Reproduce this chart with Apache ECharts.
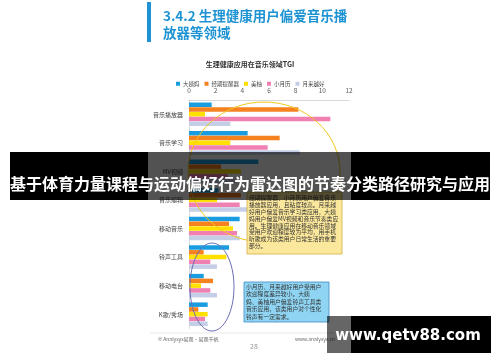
<!DOCTYPE html>
<html><head><meta charset="utf-8">
<script src="https://cdn.jsdelivr.net/npm/echarts@6/dist/echarts.min.js"></script>
<style>html,body{margin:0;padding:0;background:#fff;}#c{width:500px;height:362px;}</style>
</head><body><div id="c"></div>
<script>
const categories = ['音乐播放器','音乐学习','MV视频','音乐编辑','移动音乐','铃声工具','移动电台','K歌/秀场'];
const seriesNames = ['大姨妈','经期提醒器','美柚','小月历','月来越好'];
const dayima   = [1.7, 4.4, 5.2, 2.2, 3.8, 3.0, 1.1, 1.4];
const jingqi   = [8.2, 6.8, 2.4, 3.9, 3.0, 1.1, 1.8, 0.7];
const meiyou   = [1.2, 3.1, 3.9, 2.1, 3.3, 2.8, 0.9, 1.4];
const xiaoyueli= [10.6, 5.9, 2.9, 3.8, 3.6, 1.6, 1.6, 1.2];
const yuelai   = [3.1, 8.3, 3.5, 4.5, 3.8, 2.1, 2.1, 1.4];
const xTicks = [0, 2, 4, 6, 8, 10, 12];
const colors = ['#1a9de0','#f5811f','#ffe000','#f07fb2','#c4cee6'];
const values = [dayima, jingqi, meiyou, xiaoyueli, yuelai];

const CJK = '"Noto Sans CJK SC", sans-serif';
const chart = echarts.init(document.getElementById('c'), null, {renderer:'canvas'});

const noteYellow = '经期提醒器、小月历用户偏爱音乐\n播放器应用，且粘度较高。月来越\n好用户偏爱音乐学习类应用，大姨\n妈用户偏爱MV视频和音乐节奏类应\n用。生理健康应用在移动音乐领域\n受用户欢迎程度较为平均，用手机\n听歌成为该类用户日常生活的重要\n部分。';
const noteBlue = '小月历、月来越好用户受用户\n欢迎程度差异较小。大姨\n妈、美柚用户偏爱铃声工具类\n音乐应用，该类用户对个性化\n铃声有一定需求。';

chart.setOption({
  animation: false,
  backgroundColor: '#fff',
  textStyle: {fontFamily: CJK},
  title: {
    text: '生理健康应用在音乐领域TGI', left: 'center', top: 56,
    textStyle: {fontSize: 7, fontWeight: 'bold', color: '#333', fontFamily: CJK}
  },
  legend: {
    data: seriesNames, left: 171, top: 76, icon: 'rect', itemWidth: 4, itemHeight: 4, itemGap: 5,
    textStyle: {fontSize: 5.5, color: '#444', padding: [0,0,0,-2], fontFamily: CJK}
  },
  grid: {left: 189, right: 151, top: 100, bottom: 33.5},
  xAxis: {
    type: 'value', position: 'top', min: 0, max: 12, interval: 2,
    axisLine: {show: true, lineStyle: {color: '#d9d9d9', width: 1}},
    axisTick: {show: false}, splitLine: {show: false},
    axisLabel: {fontSize: 6.5, color: '#595959', margin: 6, formatter: v => xTicks.includes(v) ? String(v) : ''}
  },
  yAxis: {
    type: 'category', data: categories, inverse: true,
    axisLine: {show: true, lineStyle: {color: '#d9d9d9'}},
    axisTick: {show: false},
    axisLabel: {fontSize: 6, color: '#404040', margin: 6, fontFamily: CJK}
  },
  series: seriesNames.map((n, i) => ({
    name: n, type: 'bar', data: values[i], barWidth: 4.5, barGap: '6%',
    itemStyle: {color: colors[i]}
  })),
  graphic: [
    {type:'rect', z:100, shape:{x:147, y:2, width:4, height:40}, style:{fill:'#1d93d3'}},
    {type:'text', z:100, x:163, y:16, style:{text:'3.4.2 生理健康用户偏爱音乐播', fill:'#1d93d3', font:'bold 13.5px '+CJK, textVerticalAlign:'middle'}},
    {type:'text', z:100, x:163, y:33, style:{text:'放器等领域', fill:'#1d93d3', font:'bold 13.5px '+CJK, textVerticalAlign:'middle'}},
    {type:'ellipse', z:100, shape:{cx:264, cy:172, rx:76, ry:70}, style:{fill:null, stroke:'#f2c81e', lineWidth:1}},
    {type:'ellipse', z:100, shape:{cx:212, cy:287, rx:22, ry:44}, style:{fill:null, stroke:'#6a6db3', lineWidth:1}},
    {type:'rect', z:100, shape:{x:247, y:192, width:95, height:62}, style:{fill:'rgba(252,230,145,0.9)', stroke:'#d2ad45', lineWidth:0.8}},
    {type:'text', z:101, x:249, y:194.5, style:{text:noteYellow, fill:'#333', font:'5.8px '+CJK, lineHeight:6.85}},
    {type:'rect', z:100, shape:{x:244, y:282, width:85, height:40}, style:{fill:'#8fd5f3', stroke:'#3c8cc4', lineWidth:0.8}},
    {type:'text', z:101, x:246, y:283, style:{text:noteBlue, fill:'#333', font:'5.8px '+CJK, lineHeight:7.5}},
    {type:'line', z:100, shape:{x1:150, y1:333, x2:350, y2:333}, style:{stroke:'#e3e3e3', lineWidth:0.8}},
    {type:'text', z:100, x:158, y:339, style:{text:'© Analysys易观·易观千帆', fill:'#666', font:'5px '+CJK, textVerticalAlign:'middle'}},
    {type:'text', z:100, x:295, y:339, style:{text:'www.analysys.cn', fill:'#666', font:'5px '+CJK, textVerticalAlign:'middle'}},
    {type:'text', z:100, x:254, y:346, style:{text:'28', fill:'#999', font:'7px '+CJK, textAlign:'center', textVerticalAlign:'middle'}},
    {type:'rect', z:110, shape:{x:10, y:152, width:138, height:48}, style:{fill:'#000'}},
    {type:'rect', z:110, shape:{x:148, y:152, width:203, height:48}, style:{fill:'rgba(0,0,0,0.68)'}},
    {type:'rect', z:110, shape:{x:351, y:152, width:139, height:48}, style:{fill:'#000'}},
    {type:'text', z:111, x:250, y:184, style:{text:'基于体育力量课程与运动偏好行为雷达图的节奏分类路径研究与应用', fill:'#fff', font:'bold 16px '+CJK, textAlign:'center', textVerticalAlign:'middle'}},
    {type:'rect', z:110, shape:{x:327, y:316, width:24, height:37}, style:{fill:'rgba(0,0,0,0.6)'}},
    {type:'rect', z:110, shape:{x:351, y:316, width:140, height:37}, style:{fill:'#000'}},
    {type:'text', z:111, x:408, y:336, style:{text:'www.qetv88.com', fill:'#fff', font:'bold 15px "DejaVu Sans", sans-serif', textAlign:'center', textVerticalAlign:'middle'}}
  ]
});
</script>
</body></html>
